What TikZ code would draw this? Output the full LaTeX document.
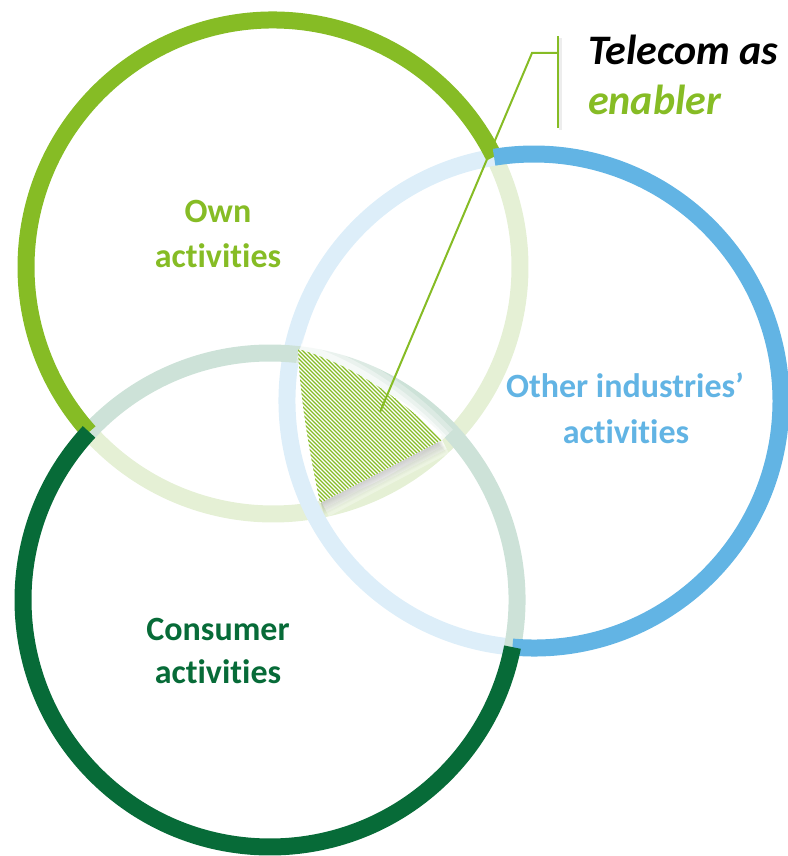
\documentclass[tikz,border=0pt]{standalone}
\usepackage{fontspec}
\setmainfont{Carlito}[Ligatures=NoCommon, RawFeature={-liga;-clig;-calt;-dlig}]
\definecolor{owng}{HTML}{86BC25}
\definecolor{owngf}{HTML}{E5F0D5}
\definecolor{blu}{HTML}{62B4E4}
\definecolor{bluf}{HTML}{DDEEF9}
\definecolor{dkg}{HTML}{076B38}
\definecolor{dkgf}{HTML}{CDE2D8}
\newcommand\hatchshape{(298,-349) .. controls (345,-362) and (400,-395) .. (442,-440) .. controls (400,-462) and (360,-483) .. (320,-503) .. controls (310,-455) and (300,-400) .. cycle}
\newcommand\hatchtop{(300,-349) .. controls (345,-362) and (400,-395) .. (442,-440)}
\newcommand\hatchbot{(442,-440) .. controls (400,-462) and (360,-483) .. (322,-503)}
\tikzset{
  ring/.style={line width=17pt},
  lbl/.style={font=\fontsize{34}{40}\selectfont\bfseries, inner sep=0pt, anchor=base},
  tel/.style={font=\fontsize{42}{50}\selectfont\bfseries\itshape, inner sep=0pt, anchor=base west},
  callout/.style={owng, line width=2pt}
}
\begin{document}
\begin{tikzpicture}[x=1pt,y=1pt]
\useasboundingbox (0,0) rectangle (787,-856);
\coordinate (own) at (273,-267);
\coordinate (oth) at (534,-401);
\coordinate (con) at (270,-600);
% faded arcs
\draw[ring, owngf] (own) ++(221.9:247pt) arc[start angle=221.9, end angle=386.5, radius=247pt];
\draw[ring, bluf] (oth) ++(99.3:247pt) arc[start angle=99.3, end angle=265, radius=247pt];
\draw[ring, dkgf] (con) ++(-11:247pt) arc[start angle=-11, end angle=137.1, radius=247pt];
% bright arcs
\draw[ring, owng] (own) ++(26.5:247pt) arc[start angle=26.5, end angle=221.9, radius=247pt];
\draw[ring, blu] (oth) ++(-95:247pt) arc[start angle=-95, end angle=99.3, radius=247pt];
\draw[ring, dkg] (con) ++(137.1:247pt) arc[start angle=137.1, end angle=349, radius=247pt];
% soft white glow along the top and lower edges of the hatched area
\foreach \w/\o in {30/0.3, 20/0.4, 12/0.55}{
  \draw[white, line width=\w pt, opacity=\o] \hatchtop;
  \draw[white, line width=\w pt, opacity=\o] \hatchbot;
}
% soft shadow
\foreach \i in {1,...,12} \fill[black, opacity=0.016, shift={(\i*0.35,-\i*1.0)}] \hatchshape;
\begin{scope}
  \clip \hatchshape;
  \fill[white] (280,-330) rectangle (460,-520);
  \foreach \c in {-200,-196,...,16} \draw[owng, line width=1.3pt] (\c+600,-600) -- (\c+250,-250);
\end{scope}
% callout
\coordinate (tip) at (380,-412);
\coordinate (elbow) at (532,-53);
\coordinate (barmid) at (558,-53);
\coordinate (bartop) at (558,-36);
\coordinate (barbot) at (558,-128);
\draw[black, opacity=0.07, line width=3pt] ([xshift=2.5pt,yshift=-2pt]bartop) -- ([xshift=2.5pt,yshift=-2pt]barbot);
\draw[callout] (tip) -- (elbow) -- (barmid);
\draw[callout] (bartop) -- (barbot);
\node[tel, black] (tel1) at (588,-65) {Telecom as};
\node[tel, owng] (tel2) at (588,-115) {enabler};
% labels
\node[lbl, owng] (own1) at (218,-222) {Own};
\node[lbl, owng] (own2) at (218,-267) {activities};
\node[lbl, blu] (oth1) at (625,-397) {Other industries’};
\node[lbl, blu] (oth2) at (626,-443) {activities};
\node[lbl, dkg] (con1) at (218,-640) {Consumer};
\node[lbl, dkg] (con2) at (218,-683) {activities};
\end{tikzpicture}
\end{document}
